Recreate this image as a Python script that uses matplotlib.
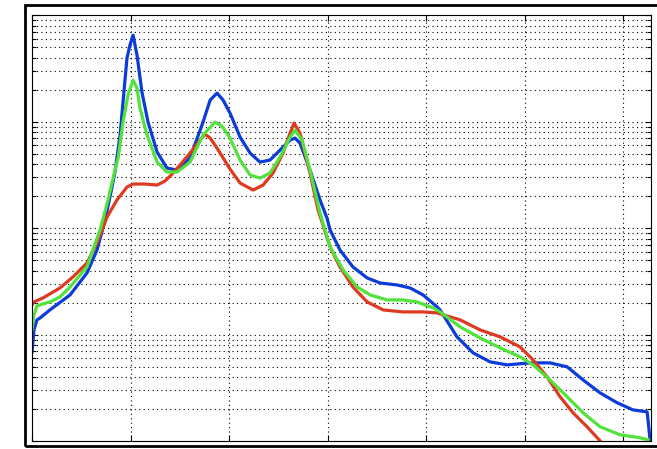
import numpy as np
import matplotlib
matplotlib.use('Agg')
import matplotlib.pyplot as plt
from matplotlib.patches import Rectangle
from matplotlib.ticker import NullFormatter

# values (y is on a log axis)
blue_x = [0, 0.010, 0.025, 0.041, 0.091, 0.193, 0.279, 0.330, 0.371, 0.406,
          0.421, 0.447, 0.482, 0.497, 0.513, 0.533, 0.558, 0.589, 0.635, 0.685,
          0.736, 0.802, 0.868, 0.904, 0.939, 0.970, 1.005, 1.056, 1.107, 1.157,
          1.208, 1.259, 1.310, 1.335, 1.360, 1.411, 1.462, 1.497, 1.513, 1.563,
          1.629, 1.701, 1.766, 1.853, 1.919, 1.985, 2.056, 2.071, 2.157, 2.239,
          2.325, 2.411, 2.528, 2.629, 2.716, 2.797, 2.883, 2.970, 3.051, 3.122,
          3.137]
blue_y = [0.00692, 0.01112, 0.01380, 0.01440, 0.01713, 0.02367, 0.03807, 0.06258, 0.1197, 0.2440,
          0.3374, 0.7503, 3.959, 5.243, 6.507, 4.224, 1.899, 0.9935, 0.5197, 0.3679,
          0.3523, 0.4565, 0.9935, 1.598, 1.859, 1.598, 1.207, 0.7187, 0.5085, 0.4188,
          0.4372, 0.5428, 0.6734, 0.7034, 0.6313, 0.3523, 0.1843, 0.1249, 0.09640, 0.06258,
          0.04335, 0.03418, 0.03068, 0.02938, 0.02754, 0.02367, 0.01827, 0.01713, 0.00956, 0.00676,
          0.00557, 0.00522, 0.00545, 0.00545, 0.00500, 0.00377, 0.00285, 0.00230, 0.00197, 0.00189,
          0.00103]

green_x = [0, 0.010, 0.025, 0.056, 0.091, 0.142, 0.193, 0.279, 0.345, 0.386,
           0.421, 0.437, 0.462, 0.487, 0.513, 0.533, 0.548, 0.584, 0.635, 0.685,
           0.736, 0.802, 0.868, 0.929, 0.964, 1.005, 1.056, 1.107, 1.157, 1.208,
           1.259, 1.310, 1.335, 1.371, 1.411, 1.462, 1.513, 1.579, 1.650, 1.716,
           1.802, 1.883, 1.954, 2.036, 2.071, 2.173, 2.274, 2.376, 2.477, 2.543,
           2.629, 2.716, 2.797, 2.883, 2.985, 3.086, 3.127]
green_y = [0.01112, 0.01537, 0.01867, 0.01950, 0.02035, 0.02267, 0.02813, 0.04335, 0.09640, 0.1843,
           0.3523, 0.4565, 0.9935, 1.780, 2.461, 2.071, 1.345, 0.7503, 0.4188, 0.3374,
           0.3374, 0.4188, 0.7503, 0.9935, 0.9114, 0.7034, 0.4372, 0.3162, 0.2963, 0.3302,
           0.4666, 0.7187, 0.8357, 0.6734, 0.3523, 0.1391, 0.06677, 0.04062, 0.02813, 0.02367,
           0.02125, 0.02125, 0.02035, 0.01788, 0.01640, 0.01186, 0.00935, 0.00754, 0.00621, 0.00522,
           0.00377, 0.00262, 0.00185, 0.00137, 0.00115, 0.00108, 0.00103]

red_x = [0, 0.010, 0.056, 0.142, 0.208, 0.279, 0.330, 0.381, 0.431, 0.482,
         0.513, 0.574, 0.635, 0.675, 0.711, 0.751, 0.802, 0.853, 0.878, 0.904,
         0.939, 1.005, 1.056, 1.122, 1.173, 1.223, 1.274, 1.310, 1.330, 1.360,
         1.411, 1.452, 1.513, 1.563, 1.629, 1.701, 1.782, 1.883, 1.985, 2.056,
         2.173, 2.274, 2.376, 2.477, 2.543, 2.614, 2.680, 2.746, 2.817, 2.883,
         2.909]
red_y = [0.01908, 0.02035, 0.02219, 0.02754, 0.03493, 0.04725, 0.07279, 0.1276, 0.1843, 0.2440,
         0.2604, 0.2604, 0.2548, 0.2778, 0.3231, 0.3925, 0.5085, 0.6734, 0.7668, 0.7034,
         0.5667, 0.3600, 0.2661, 0.2287, 0.2548, 0.3302, 0.5085, 0.7834, 0.9723, 0.7834,
         0.3302, 0.1485, 0.06677, 0.04335, 0.02813, 0.02035, 0.01713, 0.01640, 0.01640, 0.01605,
         0.01380, 0.01112, 0.00956, 0.00770, 0.00581, 0.00403, 0.00262, 0.00185, 0.00137, 0.00101,
         0.00085]

x_ticks = [0, 0.5, 1, 1.5, 2, 2.5, 3]

W, H = 657, 449
fig = plt.figure(figsize=(W/100, H/100), dpi=100)
fig.patch.set_facecolor('white')

# thick frame round the figure (cut off on the right)
fig.patches.append(Rectangle((24.5/W, 1-446/H), 1.0, (446-5.3)/H, transform=fig.transFigure,
                             fill=False, edgecolor='black', linewidth=2.0))

ax = fig.add_axes([32/W, 1-441.3/H, (651-32)/W, 426/H])

ax.plot(blue_x, blue_y, color='#0b3bd8', lw=2.3, solid_joinstyle='round')
ax.plot(red_x, red_y, color='#de3a1f', lw=2.3, solid_joinstyle='round')
ax.plot(green_x, green_y, color='#52e23c', lw=2.3, solid_joinstyle='round')

ax.set_yscale('log')
ax.set_xlim(0, np.pi)
ax.set_ylim(1e-3, 1e1)
ax.set_xticks(x_ticks)
ax.set_xticklabels([])
ax.yaxis.set_major_formatter(NullFormatter())
ax.yaxis.set_minor_formatter(NullFormatter())

ax.grid(True, which='both', color='black', linestyle=(0, (1, 3)), linewidth=0.8)
ax.tick_params(which='major', direction='in', top=True, right=True, length=4, width=0.8)
ax.tick_params(which='minor', direction='in', top=True, right=True, length=3, width=0.8)
for s in ax.spines.values():
    s.set_linewidth(0.8)

fig.savefig('out.png', dpi=100)
